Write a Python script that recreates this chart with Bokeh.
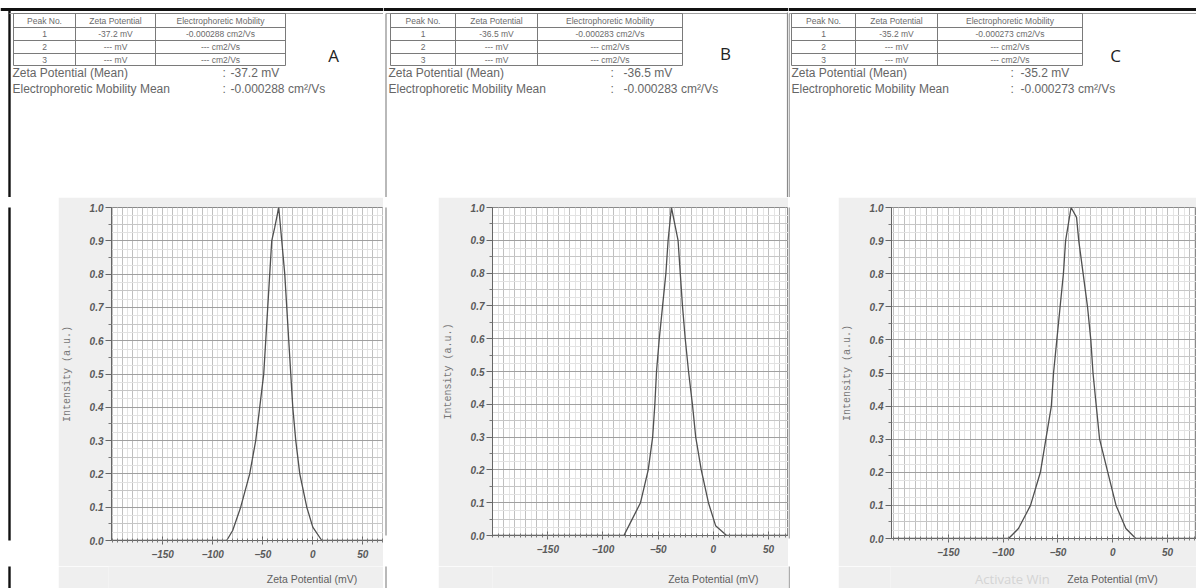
import numpy as np
from bokeh.plotting import figure
from bokeh.layouts import row, column
from bokeh.models import Range1d, FixedTicker, PrintfTickFormatter, Grid
from bokeh.core.properties import value
from bokeh.embed import file_html
from bokeh.resources import INLINE

# ---------------- data ----------------
panel_letters = ["A", "B", "C"]
table_header = ["Peak No.", "Zeta Potential", "Electrophoretic Mobility"]
peak_no = ["1", "2", "3"]
zeta_table_a = ["-37.2 mV", "--- mV", "--- mV"]
zeta_table_b = ["-36.5 mV", "--- mV", "--- mV"]
zeta_table_c = ["-35.2 mV", "--- mV", "--- mV"]
mob_table_a = ["-0.000288 cm2/Vs", "--- cm2/Vs", "--- cm2/Vs"]
mob_table_b = ["-0.000283 cm2/Vs", "--- cm2/Vs", "--- cm2/Vs"]
mob_table_c = ["-0.000273 cm2/Vs", "--- cm2/Vs", "--- cm2/Vs"]
zeta_mean = ["-37.2 mV", "-36.5 mV", "-35.2 mV"]
mobility_mean = ["-0.000288 cm\u00b2/Vs", "-0.000283 cm\u00b2/Vs", "-0.000273 cm\u00b2/Vs"]
x_label = "Zeta Potential (mV)"
y_label = "Intensity (a.u.)"

x_ticks = [-150, -100, -50, 0, 50]
y_ticks = [0.0, 0.1, 0.2, 0.3, 0.4, 0.5, 0.6, 0.7, 0.8, 0.9, 1.0]

zeta_a = [-200, -86, -80, -72, -63, -57, -53, -49, -47, -45, -43, -41, -38, -34,
          -31, -28, -26, -24, -22, -20, -17, -13, -6, 0, 9, 80]
intensity_a = [0, 0, 0.03, 0.1, 0.2, 0.3, 0.4, 0.5, 0.6, 0.7, 0.8, 0.9, 0.94, 1.0,
               0.9, 0.8, 0.7, 0.6, 0.5, 0.4, 0.3, 0.2, 0.1, 0.04, 0, 0]

zeta_b = [-200, -81, -75, -66, -59, -55, -53, -51.5, -49, -46, -43, -41, -38,
          -35, -32, -30, -28, -25.5, -22.5, -19, -16, -11, -4.5, 2, 12, 80]
intensity_b = [0, 0, 0.04, 0.1, 0.2, 0.3, 0.4, 0.5, 0.6, 0.7, 0.8, 0.9, 1.0,
               0.95, 0.9, 0.8, 0.7, 0.6, 0.5, 0.4, 0.3, 0.2, 0.1, 0.03, 0, 0]

zeta_c = [-200, -95, -86, -75, -66, -61, -56, -54, -51, -48, -45, -43, -38, -33,
          -31, -27, -23, -20, -18, -15, -12, -4.5, 3, 12, 21, 80]
intensity_c = [0, 0, 0.03, 0.1, 0.2, 0.3, 0.4, 0.5, 0.6, 0.7, 0.8, 0.9, 1.0, 0.97,
               0.9, 0.8, 0.7, 0.6, 0.5, 0.4, 0.3, 0.2, 0.1, 0.03, 0, 0]

# ---------------- layout config ----------------
HEAD_H = 197
PLOT_H = 391
LAB_H = 22
FONT = "Liberation Sans"
GREY_BG = "#efefef"

panels = [
    dict(W=383, strip=58, mbl=50, mbb=48, xr=(-201, 70.6),
         table_x=[13, 75, 155, 285], text_x=12, colon_x=222, val_x=230, letter=(333, 55),
         border="#111111", border_x=9.0, border_w=2.4, top=8, right_line=False,
         zeta=zeta_a, inten=intensity_a, zt=zeta_table_a, mt=mob_table_a, watermark=False),
    dict(W=405, strip=55, mbl=54, mbb=53, xr=(-200, 68),
         table_x=[7, 72, 154, 299], text_x=5, colon_x=227, val_x=240, letter=(342, 53),
         border="#8a8a8a", border_x=2.5, border_w=1.2, top=13, right_line=True,
         zeta=zeta_b, inten=intensity_b, zt=zeta_table_b, mt=mob_table_b, watermark=False),
    dict(W=408, strip=50, mbl=52, mbb=50, xr=(-201.8, 76.4),
         table_x=[3, 67, 149, 294], text_x=3, colon_x=222, val_x=232, letter=(327, 55),
         border="#8a8a8a", border_x=0.6, border_w=1.2, top=13, right_line=False,
         zeta=zeta_c, inten=intensity_c, zt=zeta_table_c, mt=mob_table_c, watermark=True),
]
row_edges = [13, 27, 40, 53, 65]


def blank_fig(w, h, color="white"):
    f = figure(width=w, height=h, x_range=Range1d(0, w), y_range=Range1d(h, 0),
               toolbar_location=None, output_backend="svg",
               x_axis_type=None, y_axis_type=None, min_border=0)
    f.outline_line_color = None
    f.background_fill_color = color
    f.border_fill_color = color
    return f


def header_fig(i, cfg):
    W = cfg["W"]
    f = blank_fig(W, HEAD_H)
    f.segment(x0=[cfg["border_x"]], y0=[cfg["top"]], x1=[cfg["border_x"]], y1=[HEAD_H],
              line_color=cfg["border"], line_width=cfg["border_w"])
    f.segment(x0=[0], y0=[9], x1=[W], y1=[9], line_color="#111111", line_width=2.8)
    f.segment(x0=[cfg["border_x"]], y0=[13], x1=[W], y1=[13], line_color="#a0a0a0", line_width=1)
    if cfg["right_line"]:
        f.segment(x0=[W - 1], y0=[12], x1=[W - 1], y1=[HEAD_H], line_color="#8a8a8a", line_width=1.2)
    tx = cfg["table_x"]
    f.segment(x0=[tx[0]] * 5, y0=row_edges, x1=[tx[-1]] * 5, y1=row_edges,
              line_color="#7a7a7a", line_width=1)
    f.segment(x0=tx, y0=[row_edges[0]] * 4, x1=tx, y1=[row_edges[-1]] * 4,
              line_color="#7a7a7a", line_width=1)
    centers = [(tx[k] + tx[k + 1]) / 2 for k in range(3)]
    ry = [(row_edges[k] + row_edges[k + 1]) / 2 for k in range(4)]
    f.text(x=centers, y=[ry[0]] * 3, text=table_header, text_align="center",
           text_baseline="middle", text_font=value(FONT), text_font_size="8.5px",
           text_color="#6a6a6a")
    for r in range(3):
        f.text(x=centers, y=[ry[r + 1]] * 3, text=[peak_no[r], cfg["zt"][r], cfg["mt"][r]],
               text_align="center", text_baseline="middle", text_font=value(FONT),
               text_font_size="8.5px", text_color="#6a6a6a")
    f.text(x=[cfg["text_x"]] * 2, y=[72, 88],
           text=["Zeta Potential (Mean)", "Electrophoretic Mobility Mean"],
           text_baseline="middle", text_font=value(FONT), text_font_size="12px",
           text_color="#666666")
    f.text(x=[cfg["colon_x"]] * 2, y=[72, 88], text=[":", ":"], text_baseline="middle",
           text_font=value(FONT), text_font_size="12px", text_color="#666666")
    f.text(x=[cfg["val_x"]] * 2, y=[72, 88], text=[zeta_mean[i], mobility_mean[i]],
           text_baseline="middle", text_font=value(FONT), text_font_size="12px",
           text_color="#666666")
    f.text(x=[cfg["letter"][0]], y=[cfg["letter"][1]], text=[panel_letters[i]],
           text_align="center", text_baseline="middle", text_font=value("Open Sans"),
           text_font_size="17px", text_color="#222222")
    return f


def strip_fig(cfg, h):
    f = blank_fig(cfg["strip"], h)
    f.segment(x0=[cfg["border_x"]], y0=[-1000], x1=[cfg["border_x"]], y1=[h + 1000],
              line_color=cfg["border"], line_width=cfg["border_w"])
    return f


def plot_fig(i, cfg):
    w = cfg["W"] - cfg["strip"]
    p = figure(width=w, height=PLOT_H - LAB_H, x_range=Range1d(*cfg["xr"]), y_range=Range1d(0, 1),
               toolbar_location=None, output_backend="svg",
               min_border_left=cfg["mbl"], min_border_right=0, min_border_top=10,
               min_border_bottom=cfg["mbb"] - LAB_H)
    p.border_fill_color = GREY_BG
    p.background_fill_color = "white"
    p.outline_line_color = "#8a8a8a"

    p.xaxis.ticker = FixedTicker(ticks=x_ticks, minor_ticks=np.arange(-200, 81, 5).tolist())
    p.yaxis.ticker = FixedTicker(ticks=y_ticks, minor_ticks=np.arange(0.05, 1.0, 0.1).round(3).tolist())
    p.yaxis.formatter = PrintfTickFormatter(format="%.1f")
    for ax in (p.xaxis[0], p.yaxis[0]):
        ax.axis_line_color = "#666666"
        ax.major_tick_line_color = "#666666"
        ax.minor_tick_line_color = "#777777"
        ax.major_label_text_font = FONT
        ax.major_label_text_font_size = "10px"
        ax.major_label_text_font_style = "bold italic"
        ax.major_label_text_color = "#5a5a5a"
    p.xaxis.major_tick_in = 4
    p.xaxis.major_tick_out = 4
    p.xaxis.minor_tick_in = 2
    p.xaxis.minor_tick_out = 2
    p.xaxis.major_label_standoff = 5
    p.yaxis.major_tick_in = 0
    p.yaxis.major_tick_out = 6
    p.yaxis.minor_tick_in = 0
    p.yaxis.minor_tick_out = 3
    p.yaxis.major_label_standoff = 2
    p.yaxis.axis_label = y_label
    p.yaxis.axis_label_text_font = "Liberation Mono"
    p.yaxis.axis_label_text_font_size = "10px"
    p.yaxis.axis_label_text_font_style = "normal"
    p.yaxis.axis_label_text_color = "#777777"
    p.yaxis.axis_label_standoff = 14

    p.xgrid.ticker = FixedTicker(ticks=np.arange(-200, 81, 10).tolist(),
                                 minor_ticks=np.arange(-195, 81, 10).tolist())
    p.xgrid.grid_line_color = "#c0c0c0"
    p.xgrid.minor_grid_line_color = "#e4e4e4"
    p.ygrid.ticker = FixedTicker(ticks=y_ticks,
                                 minor_ticks=np.arange(0.05, 1.0, 0.1).round(3).tolist())
    p.ygrid.grid_line_color = "#a0a0a0"
    p.ygrid.minor_grid_line_color = "#c6c6c6"
    fine = Grid(dimension=1, ticker=FixedTicker(ticks=np.arange(0.025, 1.0, 0.05).round(4).tolist()),
                grid_line_color="#e2e2e2")
    p.add_layout(fine)

    p.line(cfg["zeta"], cfg["inten"], line_color="#505050", line_width=1.3)
    return p


def label_fig(i, cfg, p):
    w = cfg["W"] - cfg["strip"]
    f = figure(width=w, height=LAB_H, x_range=p.x_range, y_range=Range1d(0, LAB_H),
               toolbar_location=None, output_backend="svg", x_axis_type=None, y_axis_type=None,
               min_border_left=cfg["mbl"], min_border_right=0, min_border_top=0, min_border_bottom=0)
    f.border_fill_color = GREY_BG
    f.background_fill_color = GREY_BG
    f.outline_line_color = None
    if cfg["watermark"]:
        f.text(x=[-57], y=[10], text=["Activate Win"], text_align="right", text_baseline="middle",
               text_font=value("Open Sans"), text_font_size="13px", text_color="#d4d4d4")
    f.text(x=[0], y=[10], text=[x_label], text_align="center", text_baseline="middle",
           text_font=value(FONT), text_font_size="10.5px", text_color="#606060")
    return f


cols = []
for i, cfg in enumerate(panels):
    p = plot_fig(i, cfg)
    lf = label_fig(i, cfg, p)
    cols.append(column(header_fig(i, cfg),
                       row(strip_fig(cfg, PLOT_H - LAB_H), p, spacing=0),
                       row(strip_fig(cfg, LAB_H), lf, spacing=0),
                       spacing=0))

layout = row(*cols, spacing=0)
open("out.html", "w").write(file_html(layout, INLINE))
